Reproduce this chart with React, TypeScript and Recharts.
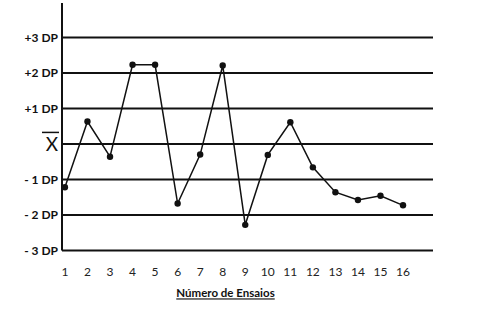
import { Label, Line, LineChart, ReferenceLine, XAxis, YAxis } from "recharts";

const trials = [1, 2, 3, 4, 5, 6, 7, 8, 9, 10, 11, 12, 13, 14, 15, 16];
const values = [
  -1.22, 0.63, -0.36, 2.23, 2.23, -1.68, -0.3, 2.21, -2.28, -0.31, 0.61, -0.66,
  -1.36, -1.58, -1.46, -1.73,
];
const sdLevels = [3, 2, 1, 0, -1, -2, -3];
const sdLabels = ["+3 DP", "+2 DP", "+1 DP", "X", "- 1 DP", "- 2 DP", "- 3 DP"];
const xTitle = "Número de Ensaios";

const data = trials.map((t, i) => ({ trial: t, value: values[i] }));

const FONT = "Lato, 'Open Sans', sans-serif";

const SdTick = (props: any) => {
  const { x, y, payload } = props;
  const idx = sdLevels.indexOf(payload.value);
  const text = sdLabels[idx];
  if (payload.value === 0) {
    // mean: X with a bar over it
    return (
      <g>
        <text
          x={x}
          y={y}
          dy="0.36em"
          textAnchor="end"
          fontSize={19}
          fontFamily={FONT}
          fill="#111"
        >
          {text}
        </text>
        <line x1={x - 16} x2={x + 1} y1={y - 11.5} y2={y - 11.5} stroke="#111" strokeWidth={1.5} />
      </g>
    );
  }
  return (
    <text
      x={x}
      y={y}
      dy="0.36em"
      textAnchor="end"
      fontSize={12}
      fontWeight="bold"
      fontFamily={FONT}
      fill="#111"
    >
      {text}
    </text>
  );
};

const TitleLabel = (props: any) => {
  const { viewBox } = props;
  const cx = viewBox.x + viewBox.width / 2 - 22;
  return (
    <text
      x={cx}
      y={viewBox.y + 47}
      textAnchor="middle"
      fontSize={11.5}
      fontWeight="bold"
      fontFamily={FONT}
      fill="#111"
      style={{ textDecoration: "underline" }}
    >
      {xTitle}
    </text>
  );
};

export default function App() {
  return (
    <div style={{ position: "absolute", left: 0, top: 0, background: "#fff" }}>
      <LineChart
        width={483}
        height={327}
        data={data}
        margin={{ top: 3, right: 50, left: 0, bottom: 46.6 }}
        style={{ fontFamily: FONT }}
      >
        {sdLevels.map((lv) => (
          <ReferenceLine key={lv} y={lv} stroke="#111" strokeWidth={2} />
        ))}
        <XAxis
          dataKey="trial"
          type="number"
          domain={[0.87, 17.33]}
          ticks={trials}
          interval={0}
          axisLine={false}
          tickLine={false}
          tickMargin={11}
          height={30}
          tick={{ fill: "#222", fontSize: 12, fontFamily: FONT }}
        >
          <Label content={<TitleLabel />} />
        </XAxis>
        <YAxis
          type="number"
          domain={[-3, 3.97]}
          ticks={sdLevels}
          interval={0}
          width={62}
          axisLine={{ stroke: "#111", strokeWidth: 2 }}
          tickLine={false}
          tickSize={2}
          tickMargin={2}
          tick={<SdTick />}
        />
        <Line
          dataKey="value"
          stroke="#111"
          strokeWidth={1.5}
          dot={{ r: 3.2, fill: "#111", stroke: "#111", strokeWidth: 0 }}
          activeDot={false}
          isAnimationActive={false}
        />
      </LineChart>
    </div>
  );
}
